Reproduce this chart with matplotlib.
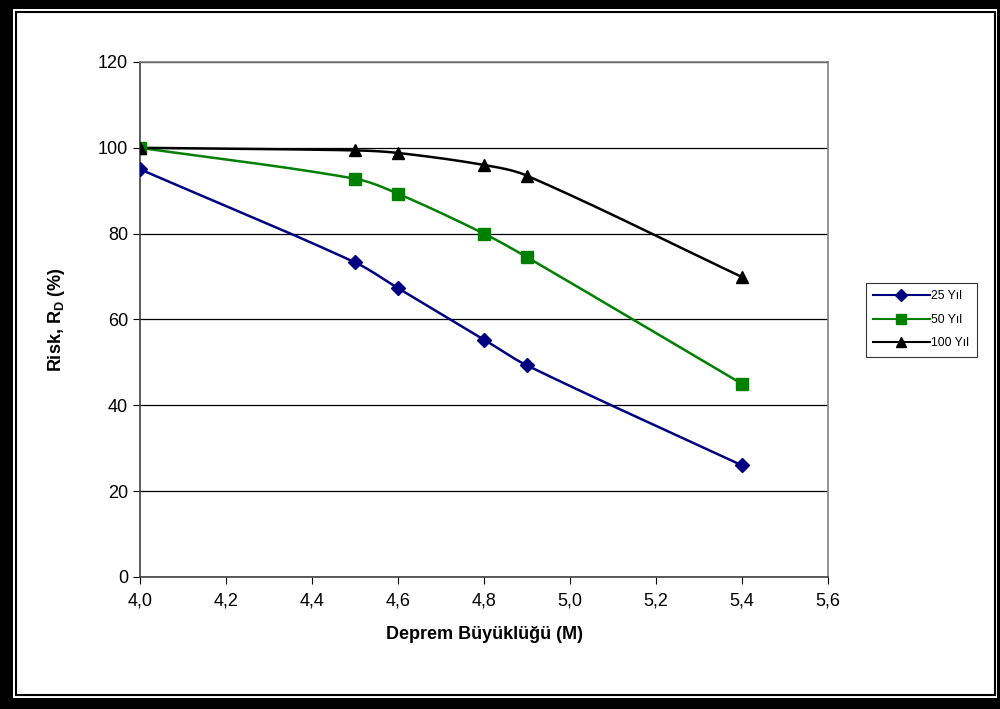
import numpy as np
import matplotlib
matplotlib.use("Agg")
import matplotlib.pyplot as plt
from matplotlib.patches import Rectangle
from matplotlib.ticker import FuncFormatter

plt.rcParams['font.family'] = ['Liberation Sans', 'DejaVu Sans']
plt.rcParams['mathtext.default'] = 'regular'

# data
magnitude = [4.0, 4.5, 4.6, 4.8, 4.9, 5.4]
risk_25 = [95.0, 73.3, 67.3, 55.3, 49.3, 26.0]
risk_50 = [100.0, 92.8, 89.3, 80.0, 74.5, 45.0]
risk_100 = [100.0, 99.4, 98.8, 96.0, 93.5, 69.9]
labels = ['25 Yıl', '50 Yıl', '100 Yıl']

# scale to screen-ish units so the smoothing looks like the spreadsheet one
SX, SY = 688 / 1.6, 515 / 120


def smooth(x, y, n=40):
    # Bezier smoothing with tangents scaled by neighbouring segment lengths
    p = np.column_stack([np.asarray(x, float) * SX, np.asarray(y, float) * SY])
    k = len(p)
    t = np.linspace(0, 1, n)[:, None]
    out = []
    for i in range(k - 1):
        p0 = p[max(i - 1, 0)]
        p1, p2 = p[i], p[i + 1]
        p3 = p[min(i + 2, k - 1)]
        l01 = np.hypot(*(p1 - p0))
        l12 = np.hypot(*(p2 - p1))
        l23 = np.hypot(*(p3 - p2))
        c1 = p1 + (p2 - p0) * l12 / (l01 + l12) / 3
        c2 = p2 - (p3 - p1) * l12 / (l12 + l23) / 3
        seg = ((1 - t) ** 3 * p1 + 3 * (1 - t) ** 2 * t * c1
               + 3 * (1 - t) * t ** 2 * c2 + t ** 3 * p2)
        out.append(seg)
    out = np.vstack(out)
    return out[:, 0] / SX, out[:, 1] / SY


fig = plt.figure(figsize=(10, 7.09), dpi=100)
ax = fig.add_axes([0.140, 0.1862, 0.688, 0.7264])

styles = [('#000080', 'D', 7.5), ('#008000', 's', 8.5), ('#000000', '^', 8.5)]
for vals, lab, (c, m, ms) in zip([risk_25, risk_50, risk_100], labels, styles):
    sx, sy = smooth(magnitude, vals)
    ax.plot(sx, sy, color=c, lw=1.8, zorder=3)
    ax.plot(magnitude, vals, ls='none', marker=m, ms=ms, color=c, zorder=4)
    ax.plot([], [], color=c, lw=1.5, marker=m, ms=ms - 1.5, label=lab)

ax.set_xlim(4.0, 5.6)
ax.set_ylim(0, 120)
ax.set_xticks(np.arange(4.0, 5.61, 0.2))
ax.set_yticks(np.arange(0, 121, 20))
ax.xaxis.set_major_formatter(FuncFormatter(lambda v, p: f"{v:.1f}".replace('.', ',')))
ax.yaxis.grid(True, color='black', lw=0.9)
ax.set_axisbelow(True)
for s in ['top', 'right']:
    ax.spines[s].set_color('#808080')
for s in ['left', 'bottom']:
    ax.spines[s].set_color('#404040')
for s in ax.spines.values():
    s.set_linewidth(1.2)
ax.tick_params(axis='both', labelsize=13, length=5, direction='out', color='black')
ax.tick_params(axis='x', pad=6)

ax.set_xlabel('Deprem Büyüklüğü (M)', fontsize=13, fontweight='bold', labelpad=12)
ax.set_ylabel('Risk, R$_D$ (%)', fontsize=13, fontweight='bold', labelpad=22)

leg = fig.legend(loc='upper left', bbox_to_anchor=(0.866, 0.601), fontsize=8.8,
                 frameon=True, fancybox=False, edgecolor='black',
                 handlelength=4.6, borderpad=0.6, labelspacing=0.95, handletextpad=0.15,
                 borderaxespad=0)
leg.get_frame().set_linewidth(0.8)

# picture frame with shadow
fig.patches.append(Rectangle((0, 0), 1, 1, transform=fig.transFigure,
                             facecolor='black', edgecolor='none', zorder=-3))
fig.patches.append(Rectangle((13 / 1000, 1 - 698 / 709), 984 / 1000, 689 / 709,
                             transform=fig.transFigure, facecolor='white',
                             edgecolor='none', zorder=-2))
fig.patches.append(Rectangle((16 / 1000, 1 - 695 / 709), 979 / 1000, 683 / 709,
                             transform=fig.transFigure, facecolor='white',
                             edgecolor='black', lw=1.5, zorder=-1))

fig.savefig('out.png', dpi=100)
